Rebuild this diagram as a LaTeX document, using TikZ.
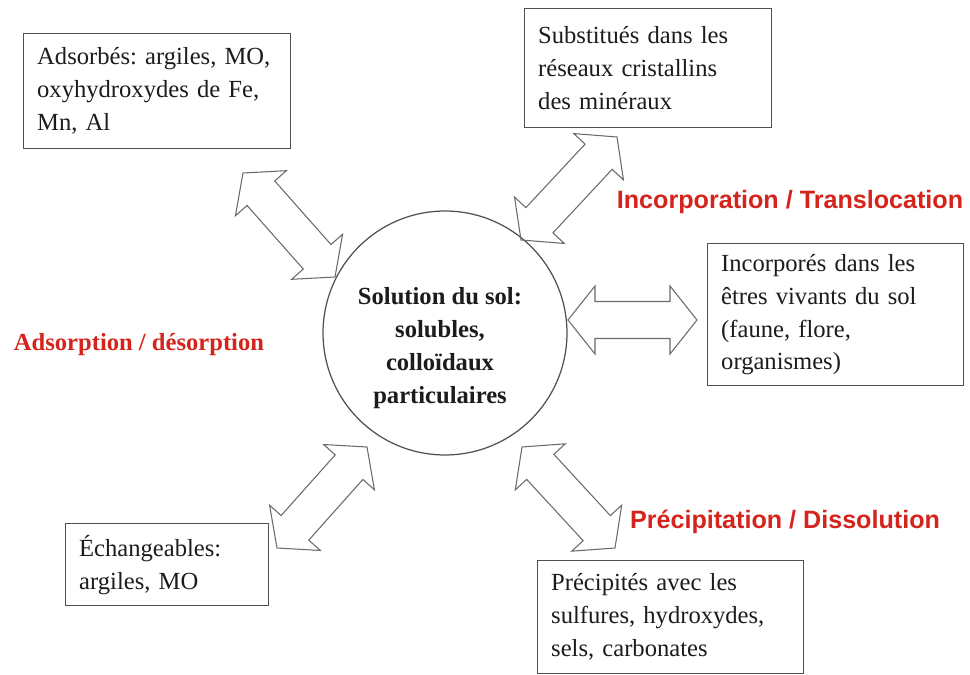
\documentclass[tikz,border=0pt]{standalone}
\usepackage{fontspec}
\setmainfont{Liberation Serif}
\newfontfamily\labsans{Liberation Sans}
\usetikzlibrary{calc}
\definecolor{redlab}{RGB}{212,36,28}
\definecolor{edge}{RGB}{80,80,80}
\definecolor{ink}{RGB}{28,28,28}
\newcommand\ahl{0.54cm}
\newcommand\ahw{0.68cm}
\newcommand\asw{0.37cm}
\newcommand\dblarr[2]{%
  \coordinate (#1-h) at ($(#1)!\ahl!(#2)$);
  \coordinate (#2-h) at ($(#2)!\ahl!(#1)$);
  \draw[blockarr] (#1) -- ($(#1-h)!\ahw!90:(#2)$) -- ($(#1-h)!\asw!90:(#2)$)
    -- ($(#2-h)!\asw!-90:(#1)$) -- ($(#2-h)!\ahw!-90:(#1)$) -- (#2)
    -- ($(#2-h)!\ahw!90:(#1)$) -- ($(#2-h)!\asw!90:(#1)$)
    -- ($(#1-h)!\asw!-90:(#2)$) -- ($(#1-h)!\ahw!-90:(#2)$) -- cycle;}
\frenchspacing
\begin{document}
\begin{tikzpicture}[x=0.02cm,y=-0.02cm,
  box/.style={draw=edge, line width=0.8pt, anchor=north west, align=left,
    inner xsep=0.27cm, inner ysep=0pt, text=ink,
    font=\fontsize{14}{18.7}\selectfont},
  lab/.style={text=redlab, inner sep=0pt, font=\fontsize{14}{17}\selectfont\bfseries},
  sanslab/.style={lab, font=\fontsize{14.3}{17}\selectfont\labsans\bfseries},
  blockarr/.style={draw=edge!85, line width=0.6pt, line join=miter}]
\useasboundingbox (0,0) rectangle (970,675);
\fill[white] (0,0) rectangle (970,675);

% boxes
\node[box, text width=4.80cm, minimum height=2.30cm] (adsorb) at (23,33)
  {Adsorbés: argiles, MO,\\oxyhydroxydes de Fe,\\Mn, Al};
\node[box, text width=4.40cm, minimum height=2.38cm] (subst) at (524,8)
  {Substitués dans les\\réseaux cristallins\\des minéraux};
\node[box, text width=4.58cm, minimum height=2.84cm] (incorp) at (707,243)
  {Incorporés dans les\\êtres vivants du sol\\(faune, flore,\\organismes)};
\node[box, text width=3.52cm, minimum height=1.64cm] (echang) at (65,523)
  {Échangeables:\\argiles, MO};
\node[box, text width=4.78cm, minimum height=2.26cm] (precip) at (537,560)
  {Précipités avec les\\sulfures, hydroxydes,\\sels, carbonates};

% central circle
\node[draw=edge, line width=0.7pt, circle, minimum size=4.88cm, inner sep=0pt] (sol) at (445,333) {};
\node[align=center, text=ink, inner sep=0pt, font=\fontsize{14}{18.7}\selectfont\bfseries] (soltext) at (440,348)
  {Solution du sol:\\solubles,\\colloïdaux\\particulaires};

% process labels
\node[sanslab] (inctrans) at (790,202) {Incorporation / Translocation};
\node[sanslab] (precdiss) at (785,522) {Précipitation / Dissolution};
\node[lab] (adsdes) at (139,345) {Adsorption / désorption};

% block double arrows
\coordinate (a1s) at (243,173); \coordinate (a1e) at (335,277);
\coordinate (a2s) at (521,240); \coordinate (a2e) at (617,137);
\coordinate (a3s) at (568,320); \coordinate (a3e) at (697,320);
\coordinate (a4s) at (367,447); \coordinate (a4e) at (277,548);
\coordinate (a5s) at (522,447); \coordinate (a5e) at (615,548);
\dblarr{a1s}{a1e}
\dblarr{a2s}{a2e}
\dblarr{a3s}{a3e}
\dblarr{a4s}{a4e}
\dblarr{a5s}{a5e}
\end{tikzpicture}
\end{document}
